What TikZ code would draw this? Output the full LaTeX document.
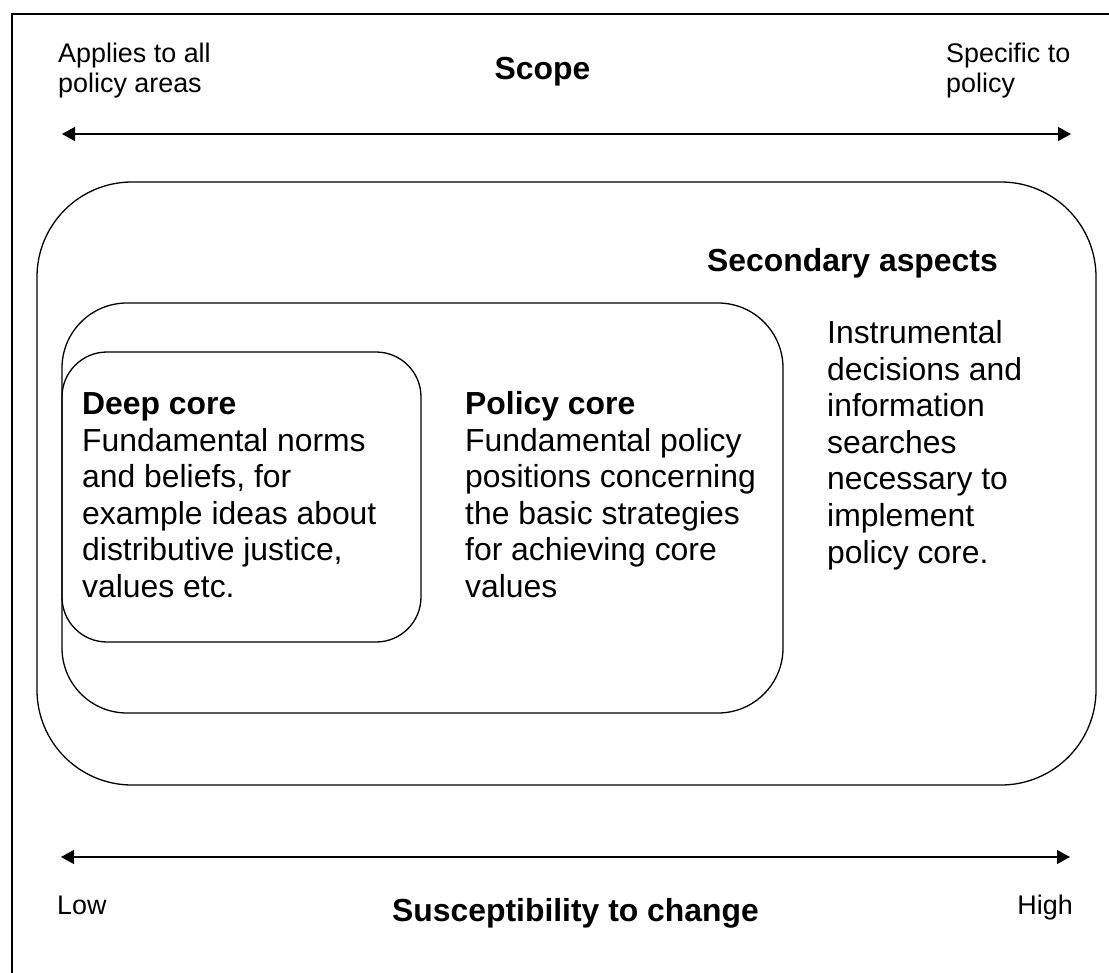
\documentclass[tikz,border=0pt]{standalone}
\usepackage{fontspec}
\setmainfont{Liberation Sans}
\usetikzlibrary{arrows.meta}
\begin{document}
\begin{tikzpicture}[x=1bp,y=-1bp,
  panel/.style={draw, line width=1.3bp, rounded corners=#1, inner sep=0pt},
  body/.style={font=\fontsize{32}{36.7}\selectfont, align=left, anchor=base west, inner sep=0pt},
  small/.style={font=\fontsize{27}{30}\selectfont, align=left, anchor=base west, inner sep=0pt},
  title/.style={font=\fontsize{32}{36.7}\selectfont\bfseries, anchor=base, inner sep=0pt},
  axis/.style={line width=1.2bp, {Triangle[length=13bp,width=14bp]}-{Triangle[length=13bp,width=14bp]}}]

\useasboundingbox (0,0) rectangle (1109,973);

% outer frame (left and top sides)
\coordinate (frameBL) at (12,990);
\coordinate (frameTL) at (12,14);
\coordinate (frameTR) at (1125,14);
\draw[line width=1.3bp] (frameBL) -- (frameTL) -- (frameTR);

% scope axis (multi-line labels are placed by their last baseline)
\node[small] (applies) at (58,92) {Applies to all\\policy areas};
\node[small] (specific) at (946,92) {Specific to\\policy};
\node[title] (scope) at (542.5,79) {Scope};
\coordinate (scopeL) at (62,134);
\coordinate (scopeR) at (1071,134);
\draw[axis] (scopeL) -- (scopeR);

% nested belief layers
\node[panel=95bp, minimum width=1059bp, minimum height=603bp] (secondary) at (566.5,483.5) {};
\node[panel=65bp, minimum width=721bp, minimum height=410bp] (policy) at (422.5,508) {};
\node[panel=45bp, minimum width=359bp, minimum height=290bp] (deep) at (241.5,497) {};

\node[title, anchor=base west] (secTitle) at (707,271) {Secondary aspects};
\node[body] (secText) at (827,563) {Instrumental\\decisions and\\information\\searches\\necessary to\\implement\\policy core.};
\node[body] (deepText) at (82,597.5) {\textbf{Deep core}\\Fundamental norms\\and beliefs, for\\example ideas about\\distributive justice,\\values etc.};
\node[body] (policyText) at (465,597.5) {\textbf{Policy core}\\Fundamental policy\\positions concerning\\the basic strategies\\for achieving core\\values};

% susceptibility axis
\coordinate (suscL) at (61,857);
\coordinate (suscR) at (1070,857);
\draw[axis] (suscL) -- (suscR);
\node[small] (low) at (57,914) {Low};
\node[small, anchor=base east] (high) at (1073,914) {High};
\node[title] (susc) at (575.5,921) {Susceptibility to change};

\end{tikzpicture}
\end{document}
